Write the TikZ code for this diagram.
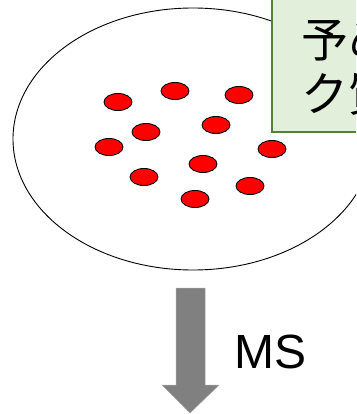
\documentclass[tikz,border=0pt]{standalone}
\usepackage{fontspec}
\setmainfont{Liberation Sans}
\newfontfamily\jpfont{Noto Sans CJK JP}
\definecolor{notefill}{HTML}{E2EFDA}
\definecolor{noteedge}{HTML}{548235}
\definecolor{arrowgray}{HTML}{808080}
\definecolor{arrowedge}{HTML}{A6A6A6}
\begin{document}
\begin{tikzpicture}[x=1pt,y=-1pt,
  sample/.style={ellipse, draw=black, line width=0.9pt, fill=red,
    minimum width=28pt, minimum height=17pt, inner sep=0pt},
  pool/.style={ellipse, draw=black, line width=0.9pt,
    minimum width=360pt, minimum height=262pt, inner sep=0pt},
  note/.style={draw=noteedge, fill=notefill, line width=1.6pt},
  notetext/.style={font=\jpfont\fontsize{47pt}{55pt}\selectfont, anchor=base west, inner sep=0pt},
  flow/.style={fill=arrowgray, draw=arrowedge, line width=0.5pt},
  flowlabel/.style={font=\fontsize{48pt}{56pt}\selectfont, anchor=base west, inner sep=0pt}]
\usetikzlibrary{shapes.geometric}
\useasboundingbox (0,0) rectangle (356,414);
\clip (0,0) rectangle (356,414);

% sample pool with its particles
\node[pool] (pool) at (193,139) {};
\node[sample] (s1)  at (118,102) {};
\node[sample] (s2)  at (175,91)  {};
\node[sample] (s3)  at (239,95)  {};
\node[sample] (s4)  at (146,132) {};
\node[sample] (s5)  at (216,125) {};
\node[sample] (s6)  at (109,147) {};
\node[sample] (s7)  at (272,149) {};
\node[sample] (s8)  at (203,164) {};
\node[sample] (s9)  at (144,177) {};
\node[sample] (s10) at (250,186) {};
\node[sample] (s11) at (195,199) {};

% note box in the upper right
\draw[note] (272,-10) rectangle (380,132);
\node[notetext] (note1) at (301,58)  {予め};
\node[notetext] (note2) at (301,112) {ク質};

% downward block arrow with its label
\draw[flow] (176,288) -- (205,288) -- (205,385) -- (219,385) -- (190,413)
  -- (162,385) -- (176,385) -- cycle;
\node[flowlabel] (ms) at (234.5,368) {MS};
\end{tikzpicture}
\end{document}
